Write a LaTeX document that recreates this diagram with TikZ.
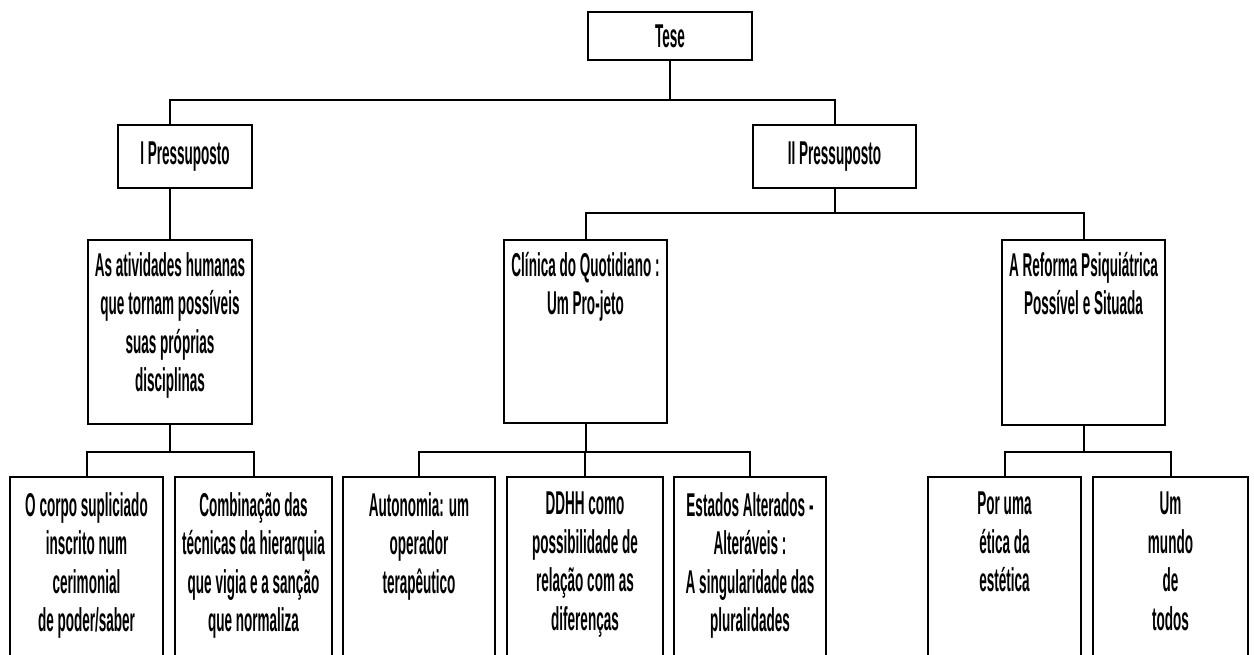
\documentclass[tikz,border=0pt]{standalone}
\usepackage{fontspec}
\newfontfamily\cond[FakeStretch=0.41]{Liberation Sans}
\begin{document}
\begin{tikzpicture}[x=1pt,y=-1pt,
  box/.style={draw,line width=2pt,rectangle,inner sep=0pt,minimum height=#1},
  box/.default=193pt,
  lbl/.style={anchor=north,inner sep=0pt,align=center,font=\cond\bfseries\fontsize{33}{38.5}\selectfont},
  lbl1/.style={inner sep=0pt,font=\cond\bfseries\fontsize{33}{38.5}\selectfont},
  conn/.style={line width=2pt}]
\useasboundingbox (0,0) rectangle (1254,654);
\fill[white] (0,0) rectangle (1254,654);
\clip (0,0) rectangle (1254,654);
% level 0
\node[box=48pt,minimum width=164pt] (tese) at (670,36) {};
\node[lbl1] (ttese) at (tese.center) {Tese};
% level 1
\node[box=63pt,minimum width=134pt] (p1) at (185,156.5) {};
\node[lbl1] (tp1) at (p1.center) {I Pressuposto};
\node[box=63pt,minimum width=163pt] (p2) at (834.5,156.5) {};
\node[lbl1] (tp2) at (p2.center) {II Pressuposto};
% level 2
\node[box=184pt,minimum width=164pt] (ativ) at (170,332) {};
\node[lbl] (tativ) at ([yshift=-13pt]ativ.north) {As atividades humanas\\que tornam possíveis\\suas próprias\\disciplinas};
\node[box=183pt,minimum width=163pt] (clin) at (585.5,331.5) {};
\node[lbl] (tclin) at ([yshift=-13pt]clin.north) {Clínica do Quotidiano :\\Um Pro-jeto};
\node[box=185pt,minimum width=163pt] (ref) at (1083.5,332.5) {};
\node[lbl] (tref) at ([yshift=-13pt]ref.north) {A Reforma Psiquiátrica\\Possível e Situada};
% level 3
\node[box,minimum width=153pt] (b1) at (86.5,573.5) {};
\node[lbl] (tb1) at ([yshift=-16pt]b1.north) {O corpo supliciado\\inscrito num\\cerimonial\\de poder/saber};
\node[box,minimum width=157pt] (b2) at (253.5,573.5) {};
\node[lbl] (tb2) at ([yshift=-16pt]b2.north) {Combinação das\\técnicas da hierarquia\\que vigia e a sanção\\que normaliza};
\node[box,minimum width=152pt] (b3) at (419,573.5) {};
\node[lbl] (tb3) at ([yshift=-16pt]b3.north) {Autonomia: um\\operador\\terapêutico};
\node[box,minimum width=156pt] (b4) at (585,573.5) {};
\node[lbl] (tb4) at ([yshift=-16pt]b4.north) {DDHH como\\possibilidade de\\relação com as\\diferenças};
\node[box,minimum width=152pt] (b5) at (750,573.5) {};
\node[lbl] (tb5) at ([yshift=-16pt]b5.north) {Estados Alterados -\\Alteráveis :\\A singularidade das\\pluralidades};
\node[box,minimum width=153pt] (b6) at (1004.5,573.5) {};
\node[lbl] (tb6) at ([yshift=-16pt]b6.north) {Por uma\\ética da\\estética};
\node[box,minimum width=155pt] (b7) at (1170.5,573.5) {};
\node[lbl] (tb7) at ([yshift=-16pt]b7.north) {Um\\mundo\\de\\todos};
% junctions
\coordinate (jt) at (670,100);
\coordinate (j2) at (834.5,213);
\coordinate (j3) at (170,452);
\coordinate (j4) at (585.5,452);
\coordinate (j5) at (1083.5,452);
% connectors
\draw[conn] (tese.south) -- (jt);
\draw[conn] (ativ.north |- p1.north) |- (jt) -| (p2.north);
\draw[conn] (p1.south -| ativ.north) -- (ativ.north);
\draw[conn] (p2.south) -- (j2);
\draw[conn] (clin.north) |- (j2) -| (ref.north);
\draw[conn] (ativ.south) -- (j3);
\draw[conn] (b1.north) |- (j3) -| (b2.north);
\draw[conn] (clin.south) -- (j4);
\draw[conn] (b3.north) |- (j4) -| (b5.north);
\draw[conn] (b4.north) -- (b4.north |- j4);
\draw[conn] (ref.south) -- (j5);
\draw[conn] (b6.north) |- (j5) -| (b7.north);
\end{tikzpicture}
\end{document}
